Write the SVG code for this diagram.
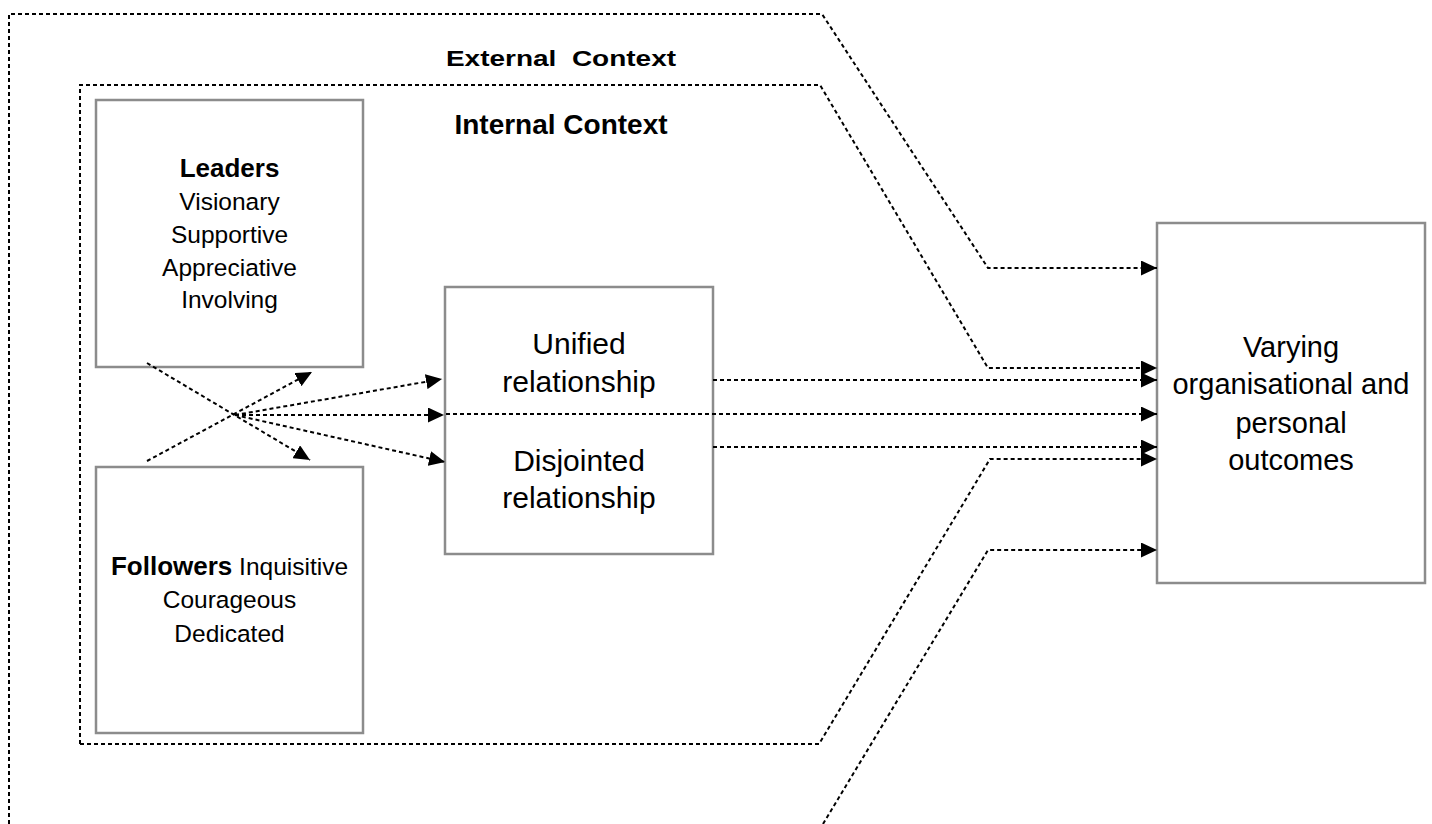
<svg xmlns="http://www.w3.org/2000/svg" width="1432" height="824" viewBox="0 0 1432 824">
<style>
.box{fill:#fff;stroke:#8c8c8c;stroke-width:2.5}
.ln{fill:none;stroke:#000;stroke-width:2;stroke-dasharray:4 3}
.t{font-family:"Liberation Sans",Arial,sans-serif;fill:#000;text-anchor:middle}
.b{font-weight:bold}
</style>
<defs>
<marker id="ah" markerUnits="userSpaceOnUse" markerWidth="16" markerHeight="15" refX="16" refY="7.5" orient="auto">
<path d="M0,0 L16,7.5 L0,15 z" fill="#000"/>
</marker>
</defs>
<rect width="1432" height="824" fill="#fff"/>
<g id="labels">
<text class="t b" x="561" y="66" font-size="28" transform="translate(0,14.5) scale(1,0.78)" xml:space="preserve" style="white-space:pre">External  Context</text>
<text class="t b" x="561" y="134" font-size="28">Internal Context</text>
</g>
<g id="leaders">
<rect class="box" x="96" y="100" width="267" height="267"/>
<text class="t" font-size="24.5"><tspan class="b" x="229.5" y="177" font-size="26">Leaders</tspan><tspan x="229.5" y="210">Visionary</tspan><tspan x="229.5" y="243">Supportive</tspan><tspan x="229.5" y="276">Appreciative</tspan><tspan x="229.5" y="308">Involving</tspan></text>
</g>
<g id="followers">
<rect class="box" x="96" y="467" width="267" height="266"/>
<text class="t" font-size="24.5"><tspan x="229.5" y="575"><tspan class="b" font-size="26">Followers</tspan> Inquisitive</tspan><tspan x="229.5" y="608">Courageous</tspan><tspan x="229.5" y="642">Dedicated</tspan></text>
</g>
<g id="relationship">
<rect class="box" x="445" y="287" width="268" height="267"/>
<text class="t" font-size="30"><tspan x="579" y="354">Unified</tspan><tspan x="579" y="392">relationship</tspan><tspan x="579" y="471">Disjointed</tspan><tspan x="579" y="508">relationship</tspan></text>
</g>
<g id="outcomes">
<rect class="box" x="1157" y="223" width="268" height="360"/>
<text class="t" font-size="29"><tspan x="1291" y="357">Varying</tspan><tspan x="1291" y="394">organisational and</tspan><tspan x="1291" y="433">personal</tspan><tspan x="1291" y="470">outcomes</tspan></text>
</g>
<g id="connectors">
<path class="ln" d="M9,824 L9,14 L822,14 L988,268 L1157,268" marker-end="url(#ah)"/>
<path class="ln" d="M80,744 L80,85 L820,85 L988,368 L1157,368" marker-end="url(#ah)"/>
<path class="ln" d="M80,744 L819,744 L990,459 L1157,459" marker-end="url(#ah)"/>
<path class="ln" d="M823,824 L988,550 L1157,550" marker-end="url(#ah)"/>
<path class="ln" d="M713,380 L1157,380" marker-end="url(#ah)"/>
<path class="ln" d="M446,414 L1157,414" marker-end="url(#ah)"/>
<path class="ln" d="M713,447 L1157,447" marker-end="url(#ah)"/>
<path class="ln" d="M147,363 L310,460" marker-end="url(#ah)"/>
<path class="ln" d="M147,461 L312,372" marker-end="url(#ah)"/>
<path class="ln" d="M235,415 L442,379" marker-end="url(#ah)"/>
<path class="ln" d="M235,415 L444,415" marker-end="url(#ah)"/>
<path class="ln" d="M235,415 L445,462" marker-end="url(#ah)"/>
</g>
</svg>
